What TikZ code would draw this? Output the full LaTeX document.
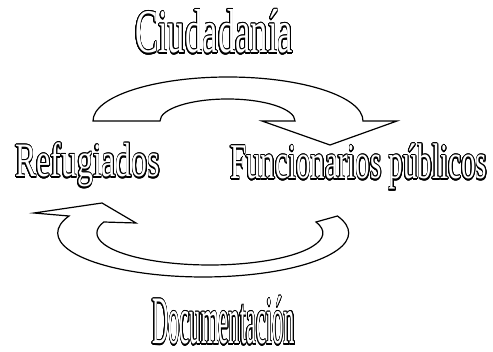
\documentclass[tikz,border=0pt]{standalone}
\usepackage{fontspec}
\setmainfont{Liberation Serif}
\usepackage{graphicx}
\usepackage{contour}
\contourlength{1.1pt}
\contournumber{24}

\begin{document}
\begin{tikzpicture}[
        x = 1pt,
        y = 1pt
    ]

        \tikzset{%
            blockarrow/.style = {%
                draw       = black,
                fill       = white,
                line width = 1.2pt
            },
            wordart/.style = {%
                inner sep = 0pt,
                anchor    = base west
            }
        }

        \newcommand{\outlinedword}[2]{\resizebox{#1}{\height}{\textcolor{white}{\contour{black}{#2}}}}

        \useasboundingbox (0, 0) rectangle (493, 351);

        % Upper arrow, bending down to the right
        \draw[blockarrow] (93, 230) arc[start angle = 180, end angle = 0, x radius = 135, y radius = 44]
            -- (397, 230)
            -- (330, 206)
            -- (262, 230)
            -- (295, 230) arc[start angle = 0, end angle = 180, x radius = 67.5, y radius = 22]
            -- cycle;

        % Lower arrow, bending up to the left
        \draw[blockarrow] (69, 135) arc[start angle = 157.3, end angle = 382.7, x radius = 145.5, y radius = 44]
            -- (316, 129) arc[start angle = 20.1, end angle = -200.1, x radius = 113, y radius = 32]
            -- (136, 128)
            -- (102, 148)
            -- (34, 138)
            -- cycle;

        \node[wordart, font = \fontsize{62}{62}\selectfont] (ciudadania) at (135, 298) {\outlinedword{158pt}{Ciudadanía}};
        \node[wordart, font = \fontsize{48}{48}\selectfont] (refugiados) at (15, 174) {\outlinedword{145pt}{Refugiados}};
        \node[wordart, font = \fontsize{50}{50}\selectfont] (funcionarios) at (230, 172) {\outlinedword{257pt}{Funcionarios públicos}};
        \node[wordart, font = \fontsize{68}{68}\selectfont] (documentacion) at (152, 7) {\outlinedword{143pt}{Documentación}};

    \end{tikzpicture}
\end{document}
